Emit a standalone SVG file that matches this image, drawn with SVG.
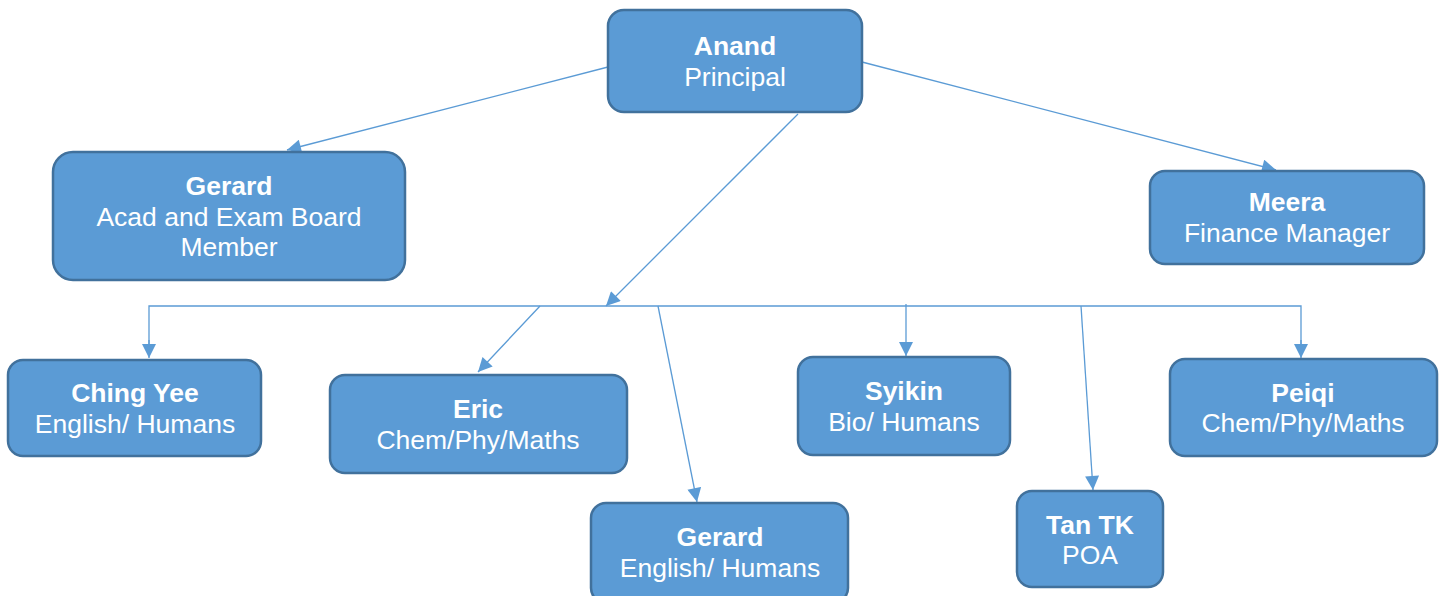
<svg xmlns="http://www.w3.org/2000/svg" width="1443" height="596" viewBox="0 0 1443 596">
<style>
.box{fill:#5B9BD5;stroke:#41719C;stroke-width:2.5}
.t{font-family:"Liberation Sans",Arial,sans-serif;font-size:26.5px;fill:#fff;text-anchor:middle}
.b{font-weight:bold}
.c{fill:none;stroke:#5B9BD5;stroke-width:1.3}
</style>
<defs>
<marker id="ah" viewBox="0 0 10 10" refX="10" refY="5" markerWidth="15" markerHeight="14" markerUnits="userSpaceOnUse" orient="auto">
<path d="M0,0 L10,5 L0,10 z" fill="#5B9BD5"/>
</marker>
</defs>
<rect width="1443" height="596" fill="#fff"/>
<g id="connectors">
<line class="c" x1="608" y1="67" x2="287" y2="150" marker-end="url(#ah)"/>
<line class="c" x1="862" y1="62" x2="1276" y2="170" marker-end="url(#ah)"/>
<line class="c" x1="798" y1="114" x2="606" y2="306" marker-end="url(#ah)"/>
<polyline class="c" points="149,350 149,306 1301,306 1301,350"/>
<line class="c" x1="149" y1="340" x2="149" y2="358" marker-end="url(#ah)"/>
<line class="c" x1="1301" y1="340" x2="1301" y2="358" marker-end="url(#ah)"/>
<line class="c" x1="540" y1="306" x2="478" y2="372" marker-end="url(#ah)"/>
<line class="c" x1="658" y1="306" x2="697" y2="502" marker-end="url(#ah)"/>
<line class="c" x1="906" y1="304" x2="906" y2="356" marker-end="url(#ah)"/>
<line class="c" x1="1081" y1="306" x2="1093" y2="490" marker-end="url(#ah)"/>
</g>
<g id="anand">
<rect class="box" x="608" y="10" width="254" height="102" rx="16"/>
<text class="t b" x="735" y="55">Anand</text>
<text class="t" x="735" y="86">Principal</text>
</g>
<g id="gerard-board">
<rect class="box" x="53" y="152" width="352" height="128" rx="20"/>
<text class="t b" x="229" y="195">Gerard</text>
<text class="t" x="229" y="226">Acad and Exam Board</text>
<text class="t" x="229" y="256">Member</text>
</g>
<g id="meera">
<rect class="box" x="1150" y="171" width="274" height="93" rx="15"/>
<text class="t b" x="1287" y="211">Meera</text>
<text class="t" x="1287" y="242">Finance Manager</text>
</g>
<g id="ching-yee">
<rect class="box" x="8" y="360" width="253" height="96" rx="15"/>
<text class="t b" x="135" y="402">Ching Yee</text>
<text class="t" x="135" y="433">English/ Humans</text>
</g>
<g id="eric">
<rect class="box" x="330" y="375" width="297" height="98" rx="15"/>
<text class="t b" x="478" y="418">Eric</text>
<text class="t" x="478" y="449">Chem/Phy/Maths</text>
</g>
<g id="gerard-english">
<rect class="box" x="591" y="503" width="257" height="100" rx="15"/>
<text class="t b" x="720" y="546">Gerard</text>
<text class="t" x="720" y="577">English/ Humans</text>
</g>
<g id="syikin">
<rect class="box" x="798" y="357" width="212" height="98" rx="15"/>
<text class="t b" x="904" y="400">Syikin</text>
<text class="t" x="904" y="431">Bio/ Humans</text>
</g>
<g id="tan-tk">
<rect class="box" x="1017" y="491" width="146" height="96" rx="15"/>
<text class="t b" x="1090" y="534">Tan TK</text>
<text class="t" x="1090" y="564">POA</text>
</g>
<g id="peiqi">
<rect class="box" x="1170" y="359" width="267" height="97" rx="15"/>
<text class="t b" x="1303" y="402">Peiqi</text>
<text class="t" x="1303" y="432">Chem/Phy/Maths</text>
</g>
</svg>
